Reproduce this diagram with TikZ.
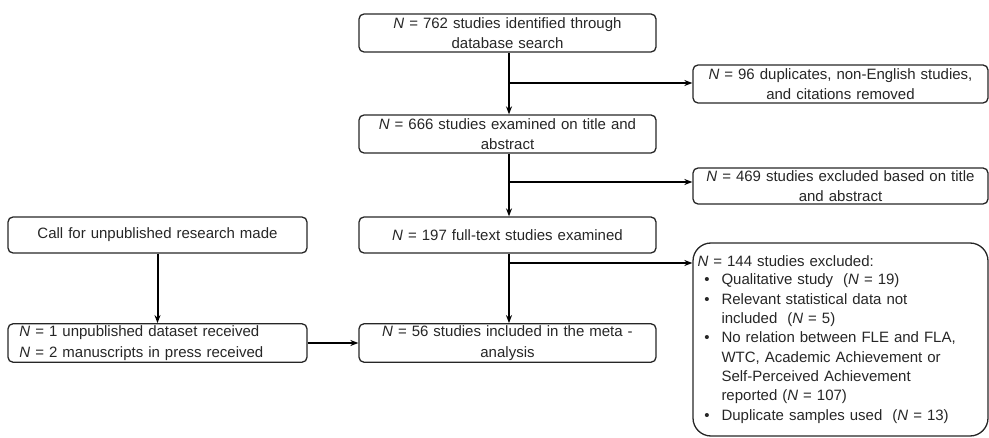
\documentclass[tikz,border=0pt]{standalone}
\usepackage{fontspec}
\setmainfont{Liberation Sans}
\usetikzlibrary{arrows.meta}
\begin{document}
\begin{tikzpicture}[x=1pt,y=-1pt,
  box/.style={draw=black!85,line width=1.3pt,rounded corners=5pt,inner sep=2pt,
    font=\fontsize{15}{20.5}\selectfont,text=black!85,align=center},
  arr/.style={line width=2pt,-{Stealth[length=8pt,width=6pt]}}]
\useasboundingbox (0,0) rectangle (989,438);
\node[box,minimum width=297pt,minimum height=38pt,text width=290pt] (A) at (507.5,33)
  {\textit{N} = 762 studies identified through\\database search};
\node[box,minimum width=297pt,minimum height=38pt,text width=290pt] (B) at (507.5,134)
  {\textit{N} = 666 studies examined on title and\\abstract};
\node[box,minimum width=297pt,minimum height=36pt,text width=290pt] (C) at (507.5,235)
  {\textit{N} = 197 full-text studies examined};
\node[box,minimum width=297pt,minimum height=38pt,text width=290pt] (D) at (507.5,343)
  {\textit{N} = 56 studies included in the meta -\\analysis};
\node[box,minimum width=299pt,minimum height=36pt,text width=292pt] (L1) at (157.5,235)
  {Call for unpublished research made};
\node[box,minimum width=299pt,minimum height=38pt,text width=276pt,align=left] (L2) at (157.5,343)
  {\textit{N} = 1 unpublished dataset received\\\textit{N} = 2 manuscripts in press received};
\node[box,minimum width=295pt,minimum height=38pt,text width=288pt] (R1) at (840.5,84)
  {\textit{N} = 96 duplicates, non-English studies,\\and citations removed};
\node[box,minimum width=295pt,minimum height=36pt,text width=288pt] (R2) at (840.5,186)
  {\textit{N} = 469 studies excluded based on title\\and abstract};
\node[box,rounded corners=18pt,minimum width=295pt,minimum height=193pt,text width=286pt,
  align=left,font=\fontsize{15}{19.3}\selectfont] (R3) at (840.5,339.5)
  {\textit{N} = 144 studies excluded:\\[-1pt]
   \begin{minipage}[t]{286pt}\raggedright
   \begin{list}{\textbullet}{\leftmargin=24pt\labelwidth=12pt\labelsep=12pt\itemsep=0pt\parsep=0pt\topsep=0pt}
   \item Qualitative study\ \ (\textit{N} = 19)
   \item Relevant statistical data not\\included\ \ (\textit{N} = 5)
   \item No relation between FLE and FLA,\\WTC, Academic Achievement or\\Self-Perceived Achievement\\reported (\textit{N} = 107)
   \item Duplicate samples used\ \ (\textit{N} = 13)
   \end{list}\end{minipage}};
\coordinate (j1) at (509,83);
\coordinate (j2) at (509,182);
\coordinate (j3) at (509,263);
\draw[arr] (A.south -| j1) -- (B.north -| j1);
\draw[arr] (B.south -| j2) -- (C.north -| j2);
\draw[arr] (C.south -| j3) -- (D.north -| j3);
\draw[arr] (j1) -- (j1 -| R1.west);
\draw[arr] (j2) -- (j2 -| R2.west);
\draw[arr] (j3) -- (j3 -| R3.west);
\draw[arr] (L1.south) -- (L2.north);
\draw[arr] (L2.east) -- (D.west);
\end{tikzpicture}
\end{document}
